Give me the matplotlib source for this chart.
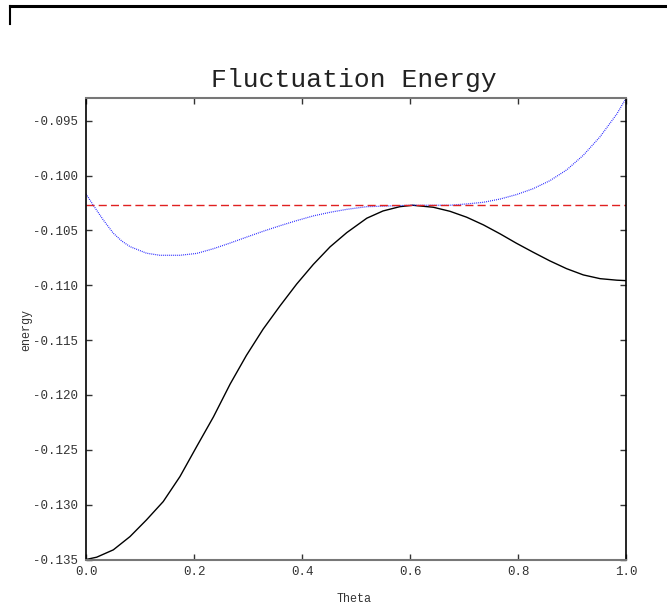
import numpy as np
import matplotlib.pyplot as plt

# fluctuation energy vs theta
theta_a = [0.0, 0.0198, 0.0506, 0.0815, 0.112, 0.143, 0.174, 0.205, 0.236, 0.267,
           0.297, 0.328, 0.359, 0.390, 0.421, 0.452, 0.483, 0.520, 0.550, 0.581,
           0.605, 0.643, 0.674, 0.705, 0.736, 0.767, 0.797, 0.828, 0.859, 0.890,
           0.921, 0.952, 0.983, 1.0]
energy_a = [-0.13500, -0.13479, -0.13412, -0.13291, -0.13139, -0.12972, -0.12744,
            -0.12470, -0.12200, -0.11900, -0.11640, -0.11400, -0.11190, -0.10990,
            -0.10810, -0.10650, -0.10520, -0.10389, -0.10323, -0.10284, -0.10271,
            -0.10289, -0.10326, -0.10380, -0.10450, -0.10532, -0.10617, -0.10699,
            -0.10778, -0.10849, -0.10906, -0.10940, -0.10954, -0.10958]

theta_b = [0.0, 0.0135, 0.032, 0.0506, 0.066, 0.0815, 0.112, 0.137, 0.174, 0.205,
           0.236, 0.267, 0.297, 0.328, 0.359, 0.390, 0.421, 0.452, 0.483, 0.520,
           0.6, 0.674, 0.705, 0.736, 0.767, 0.797, 0.828, 0.859, 0.890, 0.921,
           0.952, 0.983, 1.0]
energy_b = [-0.10168, -0.10271, -0.10405, -0.10526, -0.10596, -0.10648, -0.10708,
            -0.10727, -0.10727, -0.10710, -0.10667, -0.10615, -0.10562, -0.10508,
            -0.10458, -0.10411, -0.10368, -0.10335, -0.10308, -0.10284, -0.10271,
            -0.10271, -0.10259, -0.10244, -0.10214, -0.10174, -0.10120, -0.10047,
            -0.09949, -0.09815, -0.09646, -0.09439, -0.09296]

theta_c = [0.0, 1.0]
energy_c = [-0.10271, -0.10271]

xticks = [0.0, 0.2, 0.4, 0.6, 0.8, 1.0]
yticks = [-0.135, -0.130, -0.125, -0.120, -0.115, -0.110, -0.105, -0.100, -0.095]

plt.rcParams['font.family'] = ['Liberation Mono', 'DejaVu Sans Mono']

fig = plt.figure(figsize=(6.67, 6.06), dpi=100)
ax = fig.add_axes([86/667, 1-559.5/606, 540/667, 461.2/606])

ax.plot(theta_a, energy_a, color='black', lw=1.0)
ax.plot(theta_b, energy_b, color='#1a1aff', lw=0.9, ls=(0, (0.7, 0.9)))
ax.plot(theta_c, energy_c, color='#e02020', lw=1.0, ls=(0, (5.8, 3.0)))

ax.set_xlim(0, 1)
ax.set_ylim(-0.135, -0.09296)
ax.set_xticks(xticks)
ax.set_yticks(yticks)
ax.set_xticklabels(['%.1f' % t for t in xticks])
ax.set_yticklabels(['%.3f' % t for t in yticks])
ax.tick_params(direction='in', top=True, right=True, length=4.5, width=1,
               labelsize=9, colors='#333333')
ax.tick_params(axis='y', pad=6)
ax.tick_params(axis='x', pad=5)

for side in ['left', 'right']:
    ax.spines[side].set_color('black')
    ax.spines[side].set_linewidth(1.2)
for side in ['top', 'bottom']:
    ax.spines[side].set_color('#777777')
    ax.spines[side].set_linewidth(1.5)

fig.text(354/667, 1-87/606, 'Fluctuation Energy', ha='center', va='baseline',
         fontsize=19, color='#222222')
fig.text(354/667, 1-599/606, 'Theta', ha='center', va='center', fontsize=8.5,
         color='#333333')
fig.text(26/667, 1-330/606, 'energy', ha='center', va='center', rotation=90,
         fontsize=8.5, color='#333333')

# frame corner at the top left of the page
fig.add_artist(plt.Line2D([10/667, 1.0], [1-6/606, 1-6/606], color='black', lw=2.2))
fig.add_artist(plt.Line2D([10/667, 10/667], [1-6/606, 1-24/606], color='black', lw=1.5))

fig.savefig('out.png', dpi=100)
